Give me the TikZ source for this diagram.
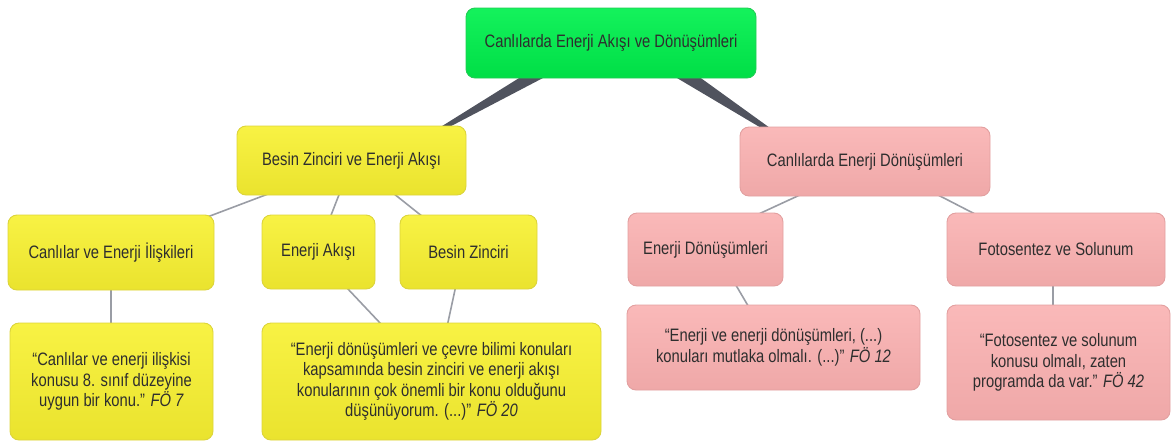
\documentclass[tikz,border=0pt]{standalone}
\usepackage{fontspec}
\setmainfont{Liberation Sans}[FakeStretch=0.82]
\usetikzlibrary{calc}
\pgfdeclarelayer{background}
\pgfsetlayers{background,main}
\definecolor{txt}{HTML}{2E2E2E}
\definecolor{gTop}{HTML}{14F25C}
\definecolor{gBot}{HTML}{00DE46}
\definecolor{gLine}{HTML}{22CC55}
\definecolor{yTop}{HTML}{F8F244}
\definecolor{yBot}{HTML}{EAE32E}
\definecolor{yLine}{HTML}{DCD43A}
\definecolor{pTop}{HTML}{FAB9B9}
\definecolor{pBot}{HTML}{EFA8A8}
\definecolor{pLine}{HTML}{E2A0A0}
\definecolor{wedgeC}{HTML}{50535E}
\definecolor{linkC}{HTML}{9A9DA5}
\tikzset{
  x=1pt, y=-1pt,
  card/.style={rounded corners=9pt, line width=0.9pt, align=center, text=txt,
    font=\fontsize{18}{20.5}\selectfont, inner sep=0pt},
  rootbox/.style={card, draw=gLine, top color=gTop, bottom color=gBot},
  ybox/.style={card, draw=yLine, top color=yTop, bottom color=yBot},
  pbox/.style={card, draw=pLine, top color=pTop, bottom color=pBot},
  wedge/.style={fill=wedgeC},
  link/.style={draw=linkC, line width=1.6pt},
}
\begin{document}
\begin{tikzpicture}
\useasboundingbox (0,0) rectangle (1174,445);
% concept boxes
\node[rootbox, minimum width=290, minimum height=70] (root) at (611,43) {Canlılarda Enerji Akışı ve Dönüşümleri};
\node[ybox, minimum width=229, minimum height=69] (besin) at (351.5,160.5) {Besin Zinciri ve Enerji Akışı};
\node[pbox, minimum width=250, minimum height=69] (cdon) at (865,161.5) {Canlılarda Enerji Dönüşümleri};
\node[ybox, minimum width=206, minimum height=75] (canli) at (111,252.5) {Canlılar ve Enerji İlişkileri};
\node[ybox, minimum width=113, minimum height=74] (akis) at (318.5,252) {Enerji Akışı};
\node[ybox, minimum width=137, minimum height=74] (zincir) at (468.5,252) {Besin Zinciri};
\node[pbox, minimum width=155, minimum height=73] (edon) at (705.5,249.5) {Enerji Dönüşümleri};
\node[pbox, minimum width=218, minimum height=73] (foto) at (1056,249.5) {Fotosentez ve Solunum};
% quotation boxes
\node[ybox, minimum width=203, minimum height=117] (q1) at (111.5,381.5)
  {“Canlılar ve enerji ilişkisi\\konusu 8. sınıf düzeyine\\uygun bir konu.” \textit{FÖ 7}};
\node[ybox, minimum width=339, minimum height=117] (q2) at (431.5,381.5)
  {“Enerji dönüşümleri ve çevre bilimi konuları\\kapsamında besin zinciri ve enerji akışı\\konularının çok önemli bir konu olduğunu\\düşünüyorum. (...)” \textit{FÖ 20}};
\node[pbox, minimum width=293, minimum height=85] (q3) at (773.5,347.5)
  {“Enerji ve enerji dönüşümleri, (...)\\konuları mutlaka olmalı. (...)” \textit{FÖ 12}};
\node[pbox, minimum width=223, minimum height=115] (q4) at (1058.5,362.5)
  {“Fotosentez ve solunum\\konusu olmalı, zaten\\programda da var.” \textit{FÖ 42}};
% connectors
\begin{pgfonlayer}{background}
  \fill[wedge] ($(root.south)+(-91,-1)$) -- ($(root.south)+(-67,-1)$) -- ($(besin.north east)+(-22,4)$) -- ($(besin.north east)+(-30,4)$) -- cycle;
  \fill[wedge] ($(root.south)+(65,-1)$) -- ($(root.south)+(89,-1)$) -- ($(cdon.north west)+(34,4)$) -- ($(cdon.north west)+(26,4)$) -- cycle;
  \draw[link] ($(besin.south)+(-82,-2)$) -- ($(canli.north east)+(-6,2)$);
  \draw[link] ($(besin.south)+(-12,-2)$) -- ($(akis.north)+(12,2)$);
  \draw[link] ($(besin.south)+(42,-2)$) -- ($(zincir.north)+(-46,2)$);
  \draw[link] (canli.south) -- (canli.south |- q1.north);
  \draw[link] ($(akis.south)+(28,-2)$) -- ($(q2.north)+(-50,2)$);
  \draw[link] ($(zincir.south)+(-13,-2)$) -- ($(q2.north)+(16,2)$);
  \draw[link] ($(cdon.south)+(-64,-2)$) -- ($(edon.north)+(52,2)$);
  \draw[link] ($(cdon.south)+(72,-2)$) -- ($(foto.north)+(-80,2)$);
  \draw[link] ($(edon.south)+(30,-2)$) -- ($(q3.north)+(-25,2)$);
  \draw[link] ($(foto.south)+(-3,-2)$) -- ($(q4.north)+(-5.5,2)$);
\end{pgfonlayer}
\end{tikzpicture}
\end{document}
